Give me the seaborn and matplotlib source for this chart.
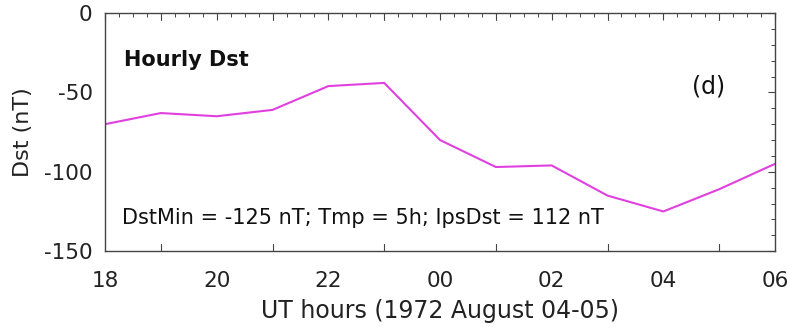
import matplotlib
matplotlib.use("Agg")
import matplotlib.pyplot as plt
from matplotlib.ticker import MultipleLocator, FixedLocator
import seaborn as sns
import pandas as pd

# Hourly Dst values, UT 18h on Aug 04 to 06h on Aug 05 (hours past 18 continue as 24..30)
hours = [18, 19, 20, 21, 22, 23, 24, 25, 26, 27, 28, 29, 30]
dst = [-70, -63, -65, -61, -46, -44, -80, -97, -96, -115, -125, -111, -95]
tick_hours = [18, 20, 22, 24, 26, 28, 30]
tick_labels = ["18", "20", "22", "00", "02", "04", "06"]

sns.set_style("white")
plt.rcParams["font.family"] = ["DejaVu Sans"]
plt.rcParams["axes.unicode_minus"] = False

df = pd.DataFrame({"hour": hours, "dst": dst})

fig = plt.figure(figsize=(7.9, 3.27), dpi=100)
ax = fig.add_axes([0.133, 0.232, 0.848, 0.728])

sns.lineplot(data=df, x="hour", y="dst", ax=ax, color="#E040E0", linewidth=1.5)

ax.set_xlim(18, 30)
ax.set_ylim(-150, 0)
ax.xaxis.set_major_locator(FixedLocator(tick_hours))
ax.set_xticklabels(tick_labels)
ax.xaxis.set_minor_locator(MultipleLocator(0.25))
ax.yaxis.set_major_locator(MultipleLocator(50))
ax.yaxis.set_minor_locator(MultipleLocator(10))

edge = "#444444"
txt = "#222222"
for s in ax.spines.values():
    s.set_color(edge)
    s.set_linewidth(1.0)
ax.tick_params(which="both", direction="in", top=True, right=True, colors=edge,
               labelcolor=txt, labelsize=15.5)
ax.tick_params(which="major", length=5, width=0.8)
ax.tick_params(which="minor", length=3, width=0.7)
ax.tick_params(axis="x", which="major", pad=14)
ax.tick_params(axis="y", which="major", pad=9)

# hourly ticks slightly longer than the quarter-hour ones on the time axis
for h in range(18, 31):
    if h not in tick_hours:
        for y0, d in ((-150, 1), (0, -1)):
            ax.plot([h, h], [y0, y0 + d * 4.5], color=edge, lw=0.8, clip_on=False)

ax.set_xlabel("UT hours (1972 August 04-05)", fontsize=17, color=txt, labelpad=6)
ax.set_ylabel("Dst (nT)", fontsize=16, color=txt, labelpad=8)

ax.text(0.028, 0.777, "Hourly Dst", transform=ax.transAxes, fontsize=15,
        fontweight="bold", color="#111111", va="baseline")
ax.text(0.876, 0.664, "(d)", transform=ax.transAxes, fontsize=17, color="#111111",
        va="baseline")
ax.text(0.025, 0.113, "DstMin = -125 nT; Tmp = 5h; IpsDst = 112 nT",
        transform=ax.transAxes, fontsize=15, color="#111111", va="baseline")

fig.savefig("out.png", dpi=100)
